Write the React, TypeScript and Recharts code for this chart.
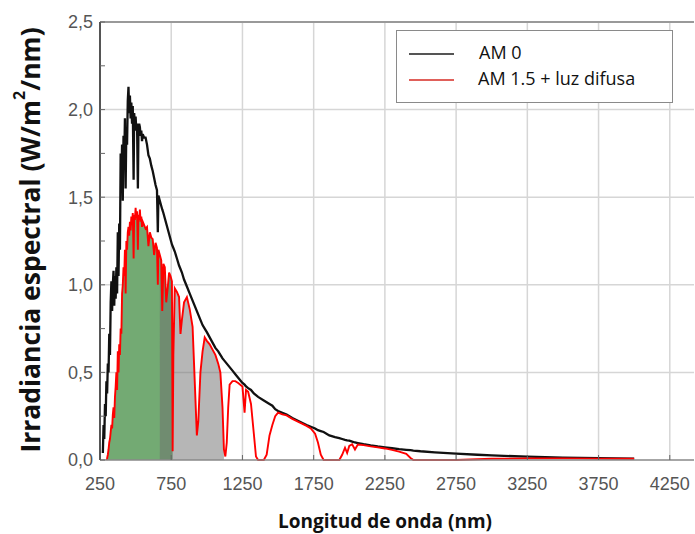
import React from 'react';
import { ComposedChart, Line, Area, XAxis, YAxis, CartesianGrid, ReferenceLine } from 'recharts';

// Wavelength grid (nm)
const wavelengths = [270,275,280,285,290,295,300,305,310,315,320,325,330,335,340,345,350,355,360,365,370,375,380,385,390,395,400,405,410,415,420,425,430,435,440,445,450,455,460,465,470,475,480,486,490,495,500,505,510,516,520,525,530,535,540,545,550,560,570,580,590,600,610,620,630,640,650,656,660,670,680,687,695,705,715,725,735,745,755,760,765,775,790,805,815,825,840,860,880,900,915,930,940,955,970,985,1000,1020,1040,1060,1080,1095,1110,1120,1130,1140,1150,1160,1180,1200,1220,1250,1265,1275,1290,1310,1330,1345,1360,1400,1420,1440,1460,1480,1500,1530,1560,1600,1650,1700,1730,1760,1780,1800,1820,1860,1900,1930,1950,1970,1985,2000,2020,2040,2060,2100,2150,2200,2250,2300,2350,2400,2430,2450,2500,2600,2750,2900,3000,3250,3500,3750,4000];

// AM 0 spectral irradiance (W/m2/nm)
const am0 = [0.04,0.2,0.12,0.32,0.25,0.45,0.38,0.55,0.5,0.72,0.6,0.9,1.02,0.85,1.0,1.08,0.88,1.05,0.92,1.1,0.95,1.3,1.05,1.35,1.2,1.75,1.6,1.8,1.48,1.85,1.7,1.95,1.55,1.9,1.8,2.05,2.13,1.98,2.08,1.95,2.04,1.92,2.02,1.6,1.98,1.9,1.96,1.88,1.92,1.55,1.88,1.92,1.9,1.85,1.88,1.82,1.86,1.84,1.84,1.8,1.74,1.72,1.68,1.65,1.61,1.57,1.54,1.3,1.51,1.48,1.45,1.43,1.41,1.38,1.35,1.32,1.29,1.26,1.23,1.22,1.21,1.19,1.15,1.11,1.09,1.07,1.03,0.99,0.95,0.91,0.88,0.85,0.83,0.8,0.77,0.75,0.73,0.7,0.67,0.64,0.62,0.6,0.58,0.57,0.56,0.55,0.54,0.53,0.51,0.49,0.47,0.44,0.43,0.42,0.41,0.4,0.38,0.37,0.36,0.34,0.33,0.32,0.31,0.29,0.28,0.27,0.26,0.24,0.22,0.2,0.19,0.18,0.17,0.165,0.16,0.14,0.13,0.125,0.12,0.115,0.112,0.11,0.105,0.1,0.097,0.09,0.083,0.077,0.072,0.067,0.062,0.058,0.056,0.054,0.05,0.044,0.036,0.03,0.026,0.019,0.014,0.011,0.008];

// AM 1.5 + diffuse light (W/m2/nm)
const am15 = [null,null,null,null,null,0,0.01,0.03,0.06,0.1,0.12,0.16,0.2,0.18,0.26,0.3,0.24,0.36,0.42,0.5,0.4,0.62,0.5,0.66,0.6,0.75,0.72,0.95,1.0,1.1,1.05,1.2,0.95,1.25,1.2,1.3,1.33,1.28,1.36,1.31,1.39,1.34,1.41,1.15,1.4,1.37,1.44,1.38,1.42,1.2,1.4,1.37,1.43,1.36,1.39,1.33,1.36,1.34,1.32,1.33,1.22,1.3,1.27,1.26,1.17,1.24,1.21,1.0,1.2,1.17,1.14,0.85,1.12,1.1,0.9,0.98,1.07,1.05,1.02,0.05,0.6,0.98,0.96,0.93,0.72,0.8,0.9,0.93,0.86,0.76,0.45,0.14,0.22,0.5,0.62,0.7,0.68,0.66,0.63,0.6,0.55,0.5,0.3,0.06,0.02,0.1,0.3,0.43,0.45,0.45,0.44,0.42,0.27,0.4,0.39,0.32,0.15,0.02,0,0,0.03,0.14,0.2,0.25,0.27,0.26,0.255,0.235,0.215,0.195,0.18,0.15,0.1,0.03,0,0,0,0,0.03,0.07,0.04,0.08,0.09,0.06,0.088,0.085,0.078,0.072,0.066,0.058,0.048,0.035,0.012,0,0,0,0,0.004,0.007,0.009,0.009,0.008,0.007];

const xTicks = [250, 750, 1250, 1750, 2250, 2750, 3250, 3750, 4250];
const yTicks = [0, 0.25, 0.5, 0.75, 1, 1.25, 1.5, 1.75, 2, 2.25, 2.5];
const yGrid = [0.5, 1, 1.5, 2];
const xGrid = [750, 1250, 1750, 2250, 2750, 3250, 3750, 4250];
const greenRange = [300, 760];
const grayRange = [670, 1120];

const seriesNames = ['AM 0', 'AM 1.5 + luz difusa'];

const rows = wavelengths.map((w, i) => ({
  wl: w,
  am0: am0[i],
  am15: am15[i],
  green: w >= greenRange[0] && w <= greenRange[1] ? am15[i] : null,
  gray: w >= grayRange[0] && w <= grayRange[1] ? am15[i] : null,
}));

const tickFont = { fontFamily: 'Liberation Sans, Arial, sans-serif', fontSize: 18, fill: '#555' };

export default function App() {
  return (
    <div style={{ position: 'absolute', left: 0, top: 0, width: 695, height: 534, background: '#fff', overflow: 'hidden' }}>
      <ComposedChart width={695} height={534} data={rows} margin={{ top: 22, right: 1, bottom: 44, left: 0 }}>
        <CartesianGrid stroke="#d6d6d6" strokeWidth={1.5} horizontalValues={yGrid} verticalValues={xGrid} />
        <XAxis
          dataKey="wl"
          type="number"
          domain={[250, 4420]}
          allowDataOverflow
          ticks={xTicks}
          height={30}
          tickSize={-5}
          tickMargin={22}
          tick={tickFont}
          stroke="#777"
          tickLine={{ stroke: '#666' }}
          axisLine={{ stroke: '#888', strokeWidth: 1.5 }}
        />
        <YAxis
          type="number"
          domain={[0, 2.5]}
          ticks={yTicks}
          width={100}
          tickSize={-5}
          tickMargin={12}
          tick={tickFont}
          tickFormatter={(v: number) => (Math.abs(v * 2 - Math.round(v * 2)) < 1e-6 ? v.toFixed(1).replace('.', ',') : '')}
          tickLine={{ stroke: '#666' }}
          axisLine={{ stroke: '#555', strokeWidth: 2 }}
          interval={0}
        />
        <ReferenceLine y={2.5} stroke="#999" strokeWidth={2} />
        <Area dataKey="green" type="linear" stroke="none" fill="#73aa73" fillOpacity={1} isAnimationActive={false} connectNulls={false} />
        <Area dataKey="gray" type="linear" stroke="none" fill="#6e6e6e" fillOpacity={0.5} isAnimationActive={false} connectNulls={false} />
        <Line dataKey="am0" name={seriesNames[0]} type="linear" stroke="#111" strokeWidth={2.3} dot={false} isAnimationActive={false} />
        <Line dataKey="am15" name={seriesNames[1]} type="linear" stroke="#ff0000" strokeWidth={1.9} dot={false} isAnimationActive={false} connectNulls={false} />
      </ComposedChart>

      {/* Legend */}
      <div style={{ position: 'absolute', left: 396, top: 30, width: 275, height: 71, border: '1.5px solid #8a8a8a', background: '#fff', fontFamily: 'Open Sans, sans-serif', fontSize: 18, color: '#111' }}>
        <div style={{ position: 'absolute', left: 12, top: 22, width: 45, height: 2, background: '#555' }} />
        <div style={{ position: 'absolute', left: 82, top: 9, lineHeight: '25px', whiteSpace: 'nowrap' }}>{seriesNames[0]}</div>
        <div style={{ position: 'absolute', left: 12, top: 48, width: 45, height: 2, background: '#e0605a' }} />
        <div style={{ position: 'absolute', left: 81, top: 35, lineHeight: '25px', whiteSpace: 'nowrap' }}>{seriesNames[1]}</div>
      </div>

      {/* Y axis title */}
      <div style={{ position: 'absolute', left: 30, top: 240, transform: 'translate(-50%, -50%) rotate(-90deg)', whiteSpace: 'nowrap', fontFamily: 'Open Sans, sans-serif', fontWeight: 700, fontSize: 26.5, color: '#111' }}>
        Irradiancia espectral (W/m<sup style={{ fontSize: 16, verticalAlign: 'top', position: 'relative', top: -4 }}>2</sup>/nm)
      </div>

      {/* X axis title */}
      <div style={{ position: 'absolute', left: 385, top: 521, transform: 'translate(-50%, -50%)', whiteSpace: 'nowrap', fontFamily: 'Open Sans, sans-serif', fontWeight: 700, fontSize: 19, color: '#111' }}>
        Longitud de onda (nm)
      </div>
    </div>
  );
}
